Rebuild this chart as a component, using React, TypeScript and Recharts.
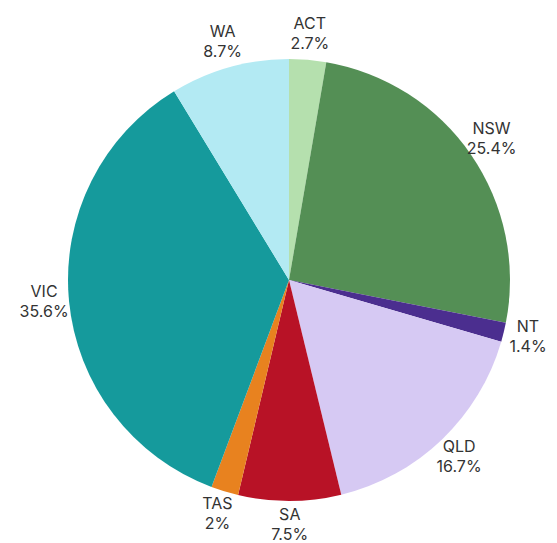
import { PieChart, Pie, Cell } from "recharts";

const states = ["ACT", "NSW", "NT", "QLD", "SA", "TAS", "VIC", "WA"];
const shares = [2.7, 25.4, 1.4, 16.7, 7.5, 2, 35.6, 8.7];
const colors = ["#b5e0ae", "#548f55", "#4b2e8f", "#d6c9f3", "#b81226", "#e8821f", "#159a9c", "#b3eaf3"];

const data = states.map((name, i) => ({ name, value: shares[i] }));

const RADIAN = Math.PI / 180;

const renderLabel = ({ cx, cy, midAngle, outerRadius, name, value }: any) => {
  const r = outerRadius + 25;
  const x = cx + r * Math.cos(-midAngle * RADIAN);
  const y = cy + r * Math.sin(-midAngle * RADIAN);
  return (
    <text
      x={x}
      y={y}
      textAnchor="middle"
      fill="#333"
      fontSize={16}
      fontFamily="Inter, sans-serif"
    >
      <tspan x={x} dy={-6}>{name}</tspan>
      <tspan x={x} dy={20}>{value}%</tspan>
    </text>
  );
};

export default function App() {
  return (
    <PieChart width={549} height={535} margin={{ top: 0, right: 0, bottom: 0, left: 0 }}>
      <Pie
        data={data}
        dataKey="value"
        nameKey="name"
        cx={281}
        cy={272}
        outerRadius={221}
        startAngle={90}
        endAngle={-270}
        stroke="none"
        label={renderLabel}
        labelLine={false}
        isAnimationActive={false}
      >
        {data.map((d, i) => (
          <Cell key={d.name} fill={colors[i]} />
        ))}
      </Pie>
    </PieChart>
  );
}
